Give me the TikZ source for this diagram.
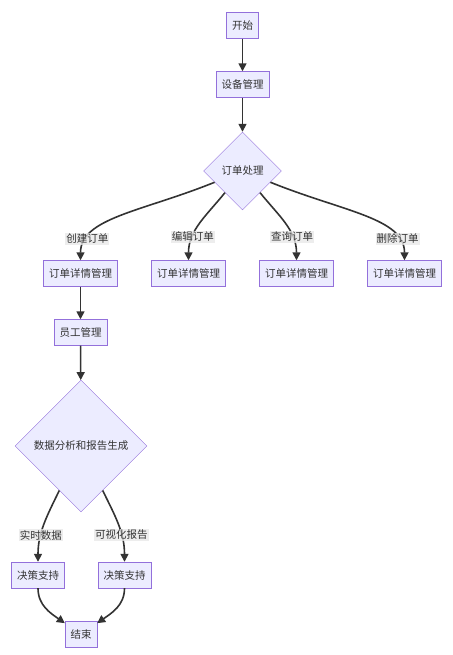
\documentclass[tikz,border=0pt]{standalone}
\usepackage{fontspec}
\setmainfont{Noto Sans CJK SC}
\usepackage{xcolor}
\usepackage{tikz}
\usetikzlibrary{shapes, arrows.meta, positioning}
\definecolor{nodefill}{HTML}{ECECFF}
\definecolor{nodeline}{HTML}{9370DB}
\definecolor{edgeline}{HTML}{333333}
\definecolor{lblfill}{HTML}{E8E8E8}

\begin{document}
\begin{tikzpicture}[x=1pt,y=1pt,
    box/.style={rectangle,draw=nodeline,fill=nodefill,minimum height=26pt,inner xsep=5.5pt,inner ysep=0pt},
    choice/.style={diamond,aspect=1,draw=nodeline,fill=nodefill,inner sep=0pt},
    lbl/.style={fill=lblfill,fill opacity=0.8,text opacity=1,inner sep=1pt}]
        \useasboundingbox (0,0) rectangle (452,-655);
        \begin{scope}[every node/.style={font=\fontsize{10.5}{12}\selectfont,text=edgeline}]
          \node[box] (start) at (242.5,-25.5) {开始};
          \node[box] (device) at (242.5,-84.5) {设备管理};
          \node[choice,minimum size=78pt] (order) at (242.5,-171) {订单处理};
          \node[box] (detaila) at (80.5,-273.5) {订单详情管理};
          \node[box] (detailb) at (188.5,-273.5) {订单详情管理};
          \node[box] (detailc) at (296.5,-273.5) {订单详情管理};
          \node[box] (detaild) at (404.5,-273.5) {订单详情管理};
          \node[box] (staff) at (80.5,-332.5) {员工管理};
          \node[choice,minimum size=132pt] (report) at (81,-446) {数据分析和报告生成};
          \node[box] (decisiona) at (38,-575) {决策支持};
          \node[box] (decisionb) at (124.5,-575) {决策支持};
          \node[box] (finish) at (81,-634.5) {结束};
        \end{scope}
        \begin{scope}[every edge/.style={draw=edgeline,line width=1.6pt,-{Triangle[length=8pt,width=8pt]}},
            every node/.style={font=\fontsize{10.5}{12}\selectfont,text=edgeline}]
          \path (start) edge (device);
          \path (device) edge (order);
          \path (order) edge[out=202,in=90,out looseness=1.3,in looseness=0.7] node[lbl,pos=0.8] {创建订单} (detaila);
          \path (order) edge[out=231,in=90] node[lbl,pos=0.7] {编辑订单} (detailb);
          \path (order) edge[out=309,in=90] node[lbl,pos=0.7] {查询订单} (detailc);
          \path (order) edge[out=338,in=90,out looseness=1.3,in looseness=0.7] node[lbl,pos=0.8] {删除订单} (detaild);
          \path (detaila) edge (staff);
          \path (staff) edge (report);
          \path (report) edge[out=244,in=90] node[lbl,pos=0.65] {实时数据} (decisiona);
          \path (report) edge[out=296,in=90] node[lbl,pos=0.65] {可视化报告} (decisionb);
          \path (decisiona) edge[out=270,in=145] (finish);
          \path (decisionb) edge[out=270,in=35] (finish);
        \end{scope}
      \end{tikzpicture}
\end{document}
